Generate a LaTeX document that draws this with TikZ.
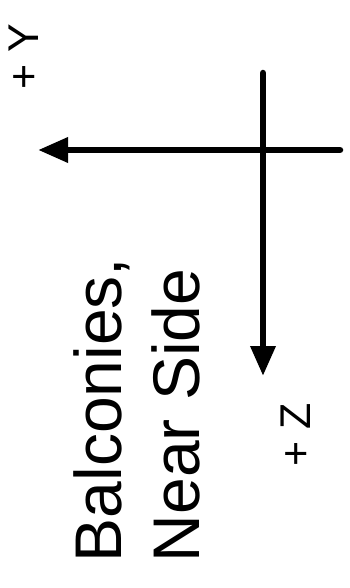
\documentclass[tikz,border=0pt]{standalone}
\usepackage{fontspec}
\setmainfont{Liberation Sans}
\usepackage{tikz}
\usetikzlibrary{arrows.meta,positioning}
\tikzset{
  daxis/.style={black, line width=6.5pt, line cap=round,
                -{Triangle[length=30pt,width=24pt]}},
  dlbl/.style={rotate=90, inner sep=0pt, font=\fontsize{43}{50}\selectfont},
  dtitle/.style={rotate=90, inner sep=0pt, align=left,
                 font=\fontsize{66}{78}\selectfont},
}

\begin{document}
\begin{tikzpicture}[x=1pt,y=-1pt]
  \useasboundingbox (0,0) rectangle (349,588);

  % ---- achsen ----
  \coordinate (yfrom) at (340,150);
  \coordinate (yto)   at (38,150);
  \coordinate (zfrom) at (263,73);
  \coordinate (zto)   at (263,376);
  \draw[daxis] (yfrom) -- (yto);
  \draw[daxis] (zfrom) -- (zto);

  % ---- beschriftung ----
  \node[dlbl] (ylbl) at (23.5,56.5) {+ Y};
  \node[dlbl] (zlbl) at (296,435) {+ Z};
  \node[dtitle] (title) at (137,410) {Balconies,\\Near Side};

\end{tikzpicture}
\end{document}
